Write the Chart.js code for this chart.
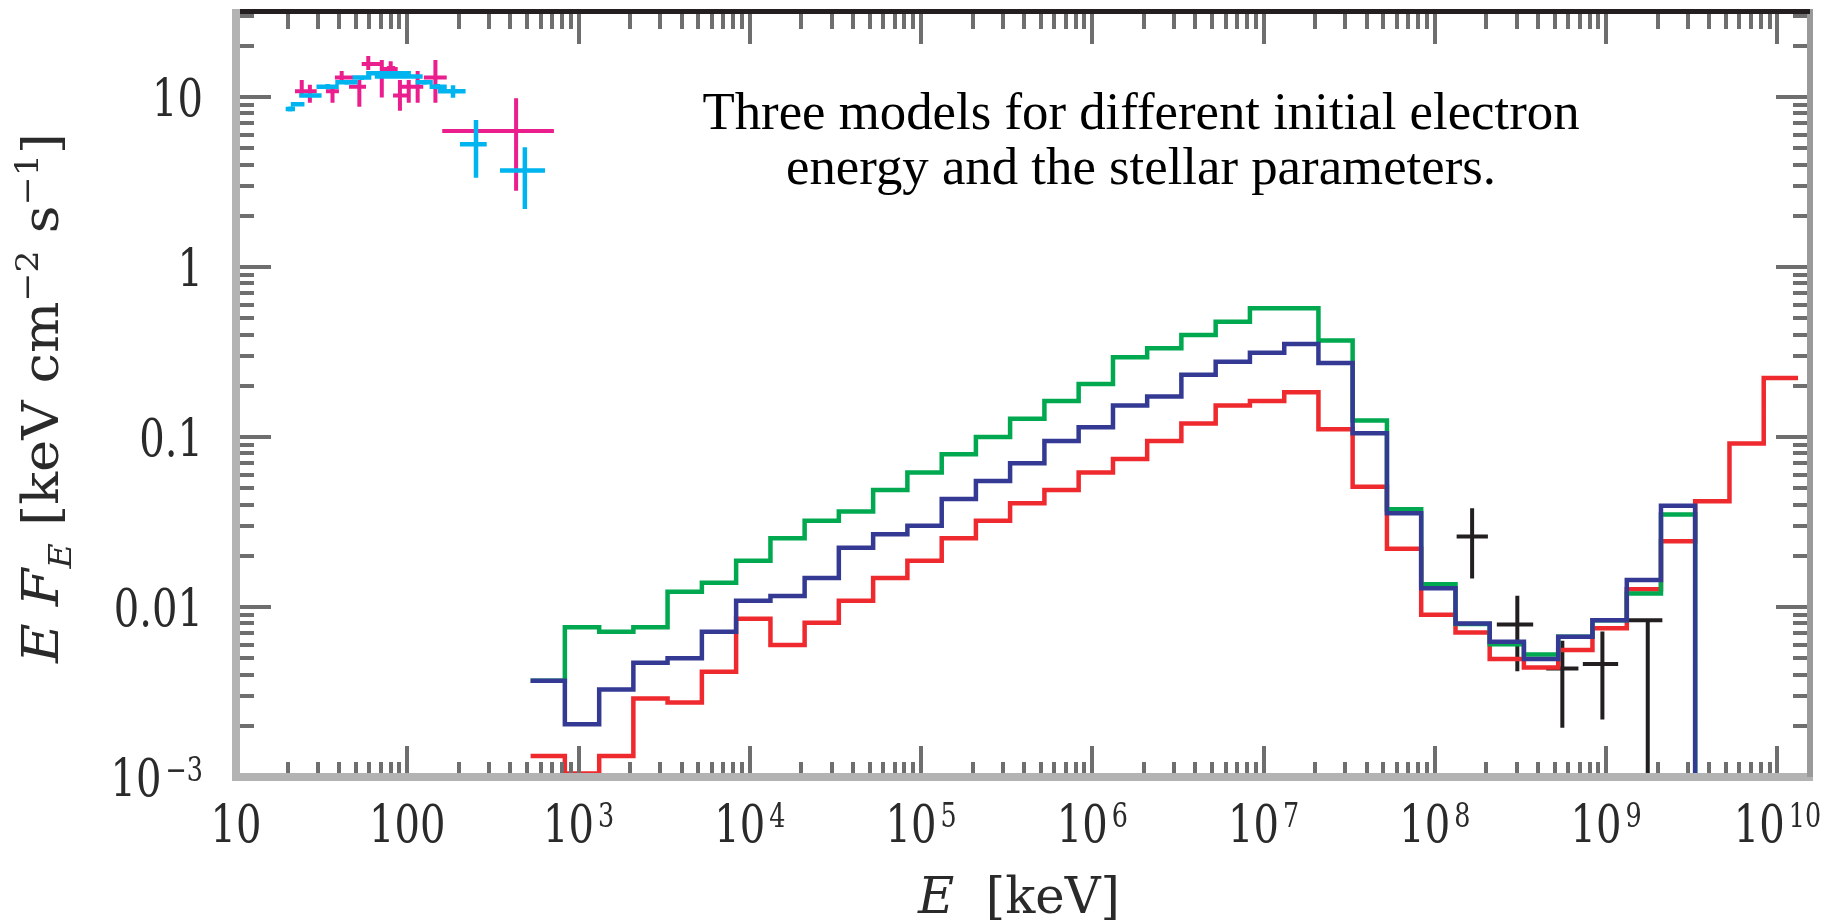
<!DOCTYPE html>
<html>
<head>
<meta charset="utf-8">
<script src="https://cdn.jsdelivr.net/npm/chart.js@4.4.1/dist/chart.umd.min.js"></script>
<style>
  html, body { margin: 0; padding: 0; background: #fff; }
  canvas { display: block; }
</style>
</head>
<body>
<canvas id="sed-chart" width="1835" height="922"></canvas>
<script>
// model histograms: bin edges in keV, one value per bin (EF_E, keV cm^-2 s^-1)
const binEdges = [5.25e2, 8.32e2,
    1.32e3, 2.09e3, 3.31e3, 5.25e3, 8.32e3,
    1.32e4, 2.09e4, 3.31e4, 5.25e4, 8.32e4,
    1.32e5, 2.09e5, 3.31e5, 5.25e5, 8.32e5,
    1.32e6, 2.09e6, 3.31e6, 5.25e6, 8.32e6,
    1.32e7, 2.09e7, 3.31e7, 5.25e7, 8.32e7,
    1.32e8, 2.09e8, 3.31e8, 5.25e8, 8.32e8,
    1.32e9, 2.09e9, 3.31e9, 5.25e9, 8.32e9,
    1.32e10];

const greenModel = [0.00368, 0.0076, 0.00716, 0.0076, 0.0123, 0.0139, 0.0187, 0.0254, 0.0322, 0.0364,
    0.0488, 0.0619, 0.0791, 0.100, 0.128, 0.163, 0.205, 0.294, 0.333, 0.398,
    0.476, 0.571, 0.571, 0.369, 0.125, 0.0376, 0.0136, 0.00794, 0.00603, 0.00525,
    0.00668, 0.00836, 0.0120, 0.0350];
const blueModel = [0.00368, 0.00204, 0.00327, 0.00470, 0.00499, 0.00716, 0.0109, 0.0116, 0.0148, 0.0223,
    0.0268, 0.0301, 0.0432, 0.0551, 0.0700, 0.0946, 0.114, 0.153, 0.173, 0.232,
    0.277, 0.313, 0.352, 0.272, 0.105, 0.0356, 0.0129, 0.00800, 0.00625, 0.00494,
    0.00668, 0.00836, 0.0144, 0.0394];
const redModel = [0.00133, 0.00105, 0.00133, 0.00290, 0.00274, 0.00416, 0.00853, 0.00597, 0.00809, 0.0109,
    0.0148, 0.0187, 0.0254, 0.0322, 0.0407, 0.0488, 0.0619, 0.0743, 0.0946, 0.120,
    0.153, 0.163, 0.183, 0.111, 0.0509, 0.0220, 0.00899, 0.00708, 0.00494, 0.00440,
    0.00558, 0.00750, 0.0127, 0.0244, 0.0419, 0.0914, 0.222];

// observed points (crosses)
const gevE = [1.65e8, 3.03e8, 5.55e8, 9.51e8, 1.75e9];
const gevElo = [1.34e8, 2.30e8, 4.47e8, 7.31e8, 1.33e9];
const gevEhi = [2.04e8, 3.75e8, 6.89e8, 1.175e9, 2.13e9];
const gevF = [0.0260, 0.00789, 0.00434, 0.00462, 0.00836];
const gevFlo = [0.0147, 0.00419, 0.00195, 0.00218, 1e-4];
const gevFhi = [0.0381, 0.01164, 0.00632, 0.00718, 0.00836];

const magE = [24.2, 27.0, 36.6, 41.4, 52.5, 59.2, 71.0, 80.0, 90.6, 102, 115, 146, 432];
const magElo = [22.1, 25.7, 33.5, 37.8, 45.7, 54.2, 69.2, 76.0, 82.6, 90.6, 110, 125, 160];
const magEhi = [25.7, 29.6, 39.9, 48.3, 57.4, 69.3, 87.9, 85.0, 99.3, 124, 123, 170, 718];
const magF = [10.8, 10.8, 10.8, 13.0, 11.5, 15.6, 14.6, 14.8, 10.2, 11.5, 11.5, 13.0, 6.31];
const magFlo = [10.0, 9.25, 9.25, 12.3, 8.77, 14.4, 9.91, 14.0, 8.30, 9.25, 9.25, 9.25, 2.81];
const magFhi = [12.6, 11.8, 11.7, 14.2, 12.6, 17.4, 16.5, 16.2, 12.6, 12.6, 14.2, 16.5, 9.82];

const cyanE = [20.7, 22.9, 27.2, 34.3, 44.2, 54.3, 77.6, 89, 126, 151, 185, 252, 486];
const cyanElo = [19.5, 20.9, 23.4, 29.5, 38.0, 47.9, 57.5, 64.6, 112, 135, 151, 203, 348];
const cyanEhi = [22.1, 25.1, 31.6, 39.8, 51.3, 61.7, 105, 123, 141, 170, 219, 291, 637];
const cyanF = [8.49, 9.06, 10.2, 11.5, 12.2, 13.0, 13.8, 13.2, 12.2, 11.5, 10.8, 5.27, 3.69];
const cyanFlo = [8.2, 8.8, 9.9, 11.1, 11.8, 12.6, 13.4, 12.8, 11.8, 11.1, 9.9, 3.35, 2.19];
const cyanFhi = [8.8, 9.3, 10.5, 11.9, 12.6, 13.4, 14.2, 13.6, 12.6, 11.9, 11.7, 7.33, 5.06];

// axes
const xTickValues = [1e1, 1e2, 1e3, 1e4, 1e5, 1e6, 1e7, 1e8, 1e9, 1e10];
const xTickLabels = [['10', ''], ['100', ''], ['10', '3'], ['10', '4'], ['10', '5'],
    ['10', '6'], ['10', '7'], ['10', '8'], ['10', '9'], ['10', '10']];
const yTickValues = [1e-3, 1e-2, 1e-1, 1, 10];
const yTickLabels = [['10', '\u22123'], ['0.01', ''], ['0.1', ''], ['1', ''], ['10', '']];

const noteLines = ['Three models for different initial electron', 'energy and the stellar parameters.'];

const INK = '#231f20';
const SERIF = '"DejaVu Serif", serif';

const stepPoints = (values, tail) => {
    const pts = values.map((v, i) => ({ x: binEdges[i], y: v }));
    pts.push({ x: binEdges[values.length], y: tail });
    return pts;
};

const crossPoints = (e, elo, ehi, f, flo, fhi) => {
    const pts = [];
    e.forEach((_, i) => {
        pts.push({ x: elo[i], y: f[i] }, { x: ehi[i], y: f[i] }, { x: e[i], y: null });
        pts.push({ x: e[i], y: flo[i] }, { x: e[i], y: fhi[i] }, { x: e[i], y: null });
    });
    return pts;
};

const stepSet = (data, color) => ({
    data, borderColor: color, borderWidth: 4.5, stepped: 'before',
    pointRadius: 0, fill: false, borderCapStyle: 'butt', borderJoinStyle: 'miter',
});

const crossSet = (data, color, width) => ({
    data, borderColor: color, borderWidth: width, pointRadius: 0,
    fill: false, spanGaps: false, borderCapStyle: 'butt',
});

const logSteps = (min, max) => {
    const out = [];
    for (let e = Math.floor(Math.log10(min)); e <= Math.ceil(Math.log10(max)); e++) {
        for (let m = 1; m <= 9; m++) {
            const v = m * Math.pow(10, e);
            if (v >= min * 0.999 && v <= max * 1.001) out.push({ v, major: m === 1 });
        }
    }
    return out;
};

// digits are narrow in the original, squeeze them horizontally
const drawTickLabel = (ctx, base, exp, pos, baseline, align) => {
    ctx.font = '52px ' + SERIF;
    const sx = 25.5 / ctx.measureText('0').width;
    const wb = ctx.measureText(base).width * sx;
    ctx.font = '33px ' + SERIF;
    const we = exp ? ctx.measureText(exp).width * sx + 4 : 0;
    const total = wb + we;
    const start = align === 'center' ? pos - total / 2 : pos - total;
    ctx.save();
    ctx.translate(start, baseline);
    ctx.scale(sx, 1);
    ctx.font = '52px ' + SERIF;
    ctx.fillText(base, 0, 0);
    if (exp) {
        ctx.font = '33px ' + SERIF;
        ctx.fillText(exp, (wb + 4) / sx, -15);
    }
    ctx.restore();
};

const pieceFont = (p) => (p.it ? 'italic ' : '') + ((p.sub || p.sup) ? '32px ' : '50px ') + SERIF;

const drawPieces = (ctx, pieces, length) => {
    let total = 0;
    pieces.forEach((p) => { ctx.font = pieceFont(p); total += ctx.measureText(p.t).width; });
    const s = length / total;
    ctx.save();
    ctx.scale(s, 1);
    let cx = 0;
    pieces.forEach((p) => {
        ctx.font = pieceFont(p);
        ctx.fillText(p.t, cx, p.sub ? 13 : (p.sup ? -20 : 0));
        cx += ctx.measureText(p.t).width;
    });
    ctx.restore();
};

const xTitle = [{ t: 'E', it: true }, { t: '  [keV]' }];
const yTitle = [{ t: 'E', it: true }, { t: ' ' }, { t: 'F', it: true }, { t: 'E', it: true, sub: true },
    { t: ' [keV cm' }, { t: '\u22122', sup: true }, { t: ' s' }, { t: '\u22121', sup: true }, { t: ']' }];

const framePlugin = {
    id: 'frame',
    afterDatasetsDraw(chart) {
        const { ctx, chartArea: a, scales: { x, y } } = chart;
        ctx.save();
        ctx.strokeStyle = '#6e6e6e';
        ctx.lineWidth = 4;
        ctx.lineCap = 'butt';
        ctx.beginPath();
        logSteps(x.min, x.max).forEach(({ v, major }) => {
            const px = Math.round(x.getPixelForValue(v));
            ctx.moveTo(px, a.bottom); ctx.lineTo(px, a.bottom - (major ? 31 : 15));
            ctx.moveTo(px, a.top); ctx.lineTo(px, a.top + (major ? 32 : 17));
        });
        logSteps(y.min, y.max).forEach(({ v, major }) => {
            const py = Math.round(y.getPixelForValue(v));
            ctx.moveTo(a.left, py); ctx.lineTo(a.left + (major ? 35 : 18), py);
            ctx.moveTo(a.right, py); ctx.lineTo(a.right - (major ? 34 : 17), py);
        });
        ctx.stroke();
        ctx.fillStyle = '#b3b3b3';
        ctx.fillRect(a.left - 4, a.top - 3, 8, a.bottom - a.top + 7);
        ctx.fillRect(a.left - 4, a.bottom - 4, a.right - a.left + 7, 8);
        ctx.fillStyle = '#9a9a9a';
        ctx.fillRect(a.right - 3, a.top - 3, 6, a.bottom - a.top + 3);
        ctx.fillStyle = INK;
        ctx.fillRect(a.left + 4, a.top - 3, a.right - a.left - 4, 5);
        ctx.restore();
    },
    afterDraw(chart) {
        const { ctx, chartArea: a, scales: { x, y } } = chart;
        ctx.save();
        ctx.fillStyle = '#2a2a2a';
        ctx.textBaseline = 'alphabetic';
        ctx.textAlign = 'left';
        xTickValues.forEach((v, i) => {
            drawTickLabel(ctx, xTickLabels[i][0], xTickLabels[i][1], x.getPixelForValue(v), 842, 'center');
        });
        yTickValues.forEach((v, i) => {
            drawTickLabel(ctx, yTickLabels[i][0], yTickLabels[i][1], a.left - 33, y.getPixelForValue(v) + 19, 'right');
        });

        // axis titles
        ctx.save();
        ctx.translate(918, 913);
        drawPieces(ctx, xTitle, 202);
        ctx.restore();
        ctx.save();
        ctx.translate(58, 663);
        ctx.rotate(-Math.PI / 2);
        drawPieces(ctx, yTitle, 530);
        ctx.restore();

        // note inside the plot
        ctx.fillStyle = '#000';
        ctx.textAlign = 'center';
        ctx.font = '100px "Liberation Serif", serif';
        const size = 100 * 877 / ctx.measureText(noteLines[0]).width;
        ctx.font = size.toFixed(1) + 'px "Liberation Serif", serif';
        ctx.fillText(noteLines[0], 1141, 129);
        ctx.fillText(noteLines[1], 1141, 184);
        ctx.restore();
    },
};

const el = document.getElementById('sed-chart');
new Chart(el, {
    type: 'line',
    data: {
        datasets: [
            stepSet(stepPoints(blueModel, 1e-5), '#343a94'),
            stepSet(stepPoints(greenModel, 1e-5), '#00a850'),
            stepSet(stepPoints(redModel, redModel[redModel.length - 1]), '#ee2a2f'),
            crossSet(crossPoints(cyanE, cyanElo, cyanEhi, cyanF, cyanFlo, cyanFhi), '#00b5ef', 4.5),
            crossSet(crossPoints(magE, magElo, magEhi, magF, magFlo, magFhi), '#ea1e8d', 4),
            crossSet(crossPoints(gevE, gevElo, gevEhi, gevF, gevFlo, gevFhi), INK, 4),
        ],
    },
    options: {
        responsive: false,
        animation: false,
        devicePixelRatio: 1,
        layout: { padding: { left: 0, right: 25, top: 12, bottom: 0 } },
        plugins: { legend: { display: false }, tooltip: { enabled: false } },
        scales: {
            x: {
                type: 'logarithmic', min: 10, max: 1.55e10,
                ticks: { display: false }, grid: { display: false }, border: { display: false },
                afterFit: (s) => { s.height = 145; },
            },
            y: {
                type: 'logarithmic', min: 1e-3, max: 31.6,
                ticks: { display: false }, grid: { display: false }, border: { display: false },
                afterFit: (s) => { s.width = 236; },
            },
        },
    },
    plugins: [framePlugin],
});
</script>
</body>
</html>
